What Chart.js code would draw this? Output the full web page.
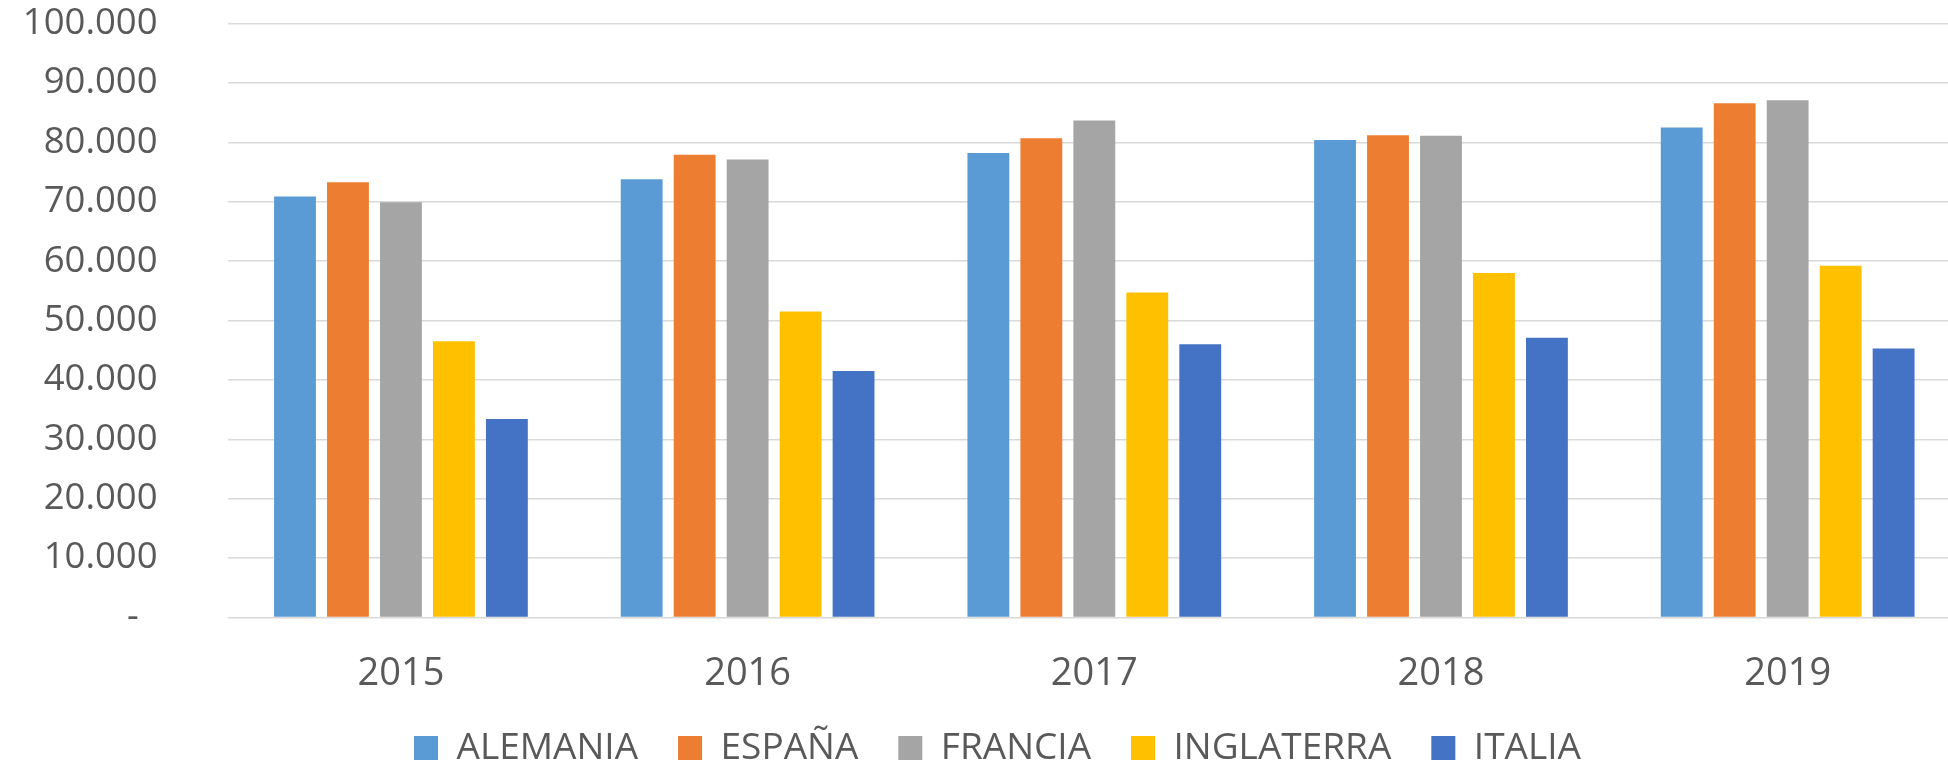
<!DOCTYPE html>
<html>
<head>
<meta charset="utf-8">
<script src="https://cdn.jsdelivr.net/npm/chart.js@4.4.0/dist/chart.umd.min.js"></script>
<style>
  html, body { margin: 0; padding: 0; overflow: hidden; background: #fff; }
  #wrap { width: 1961px; height: 764px; }
</style>
</head>
<body>
<div id="wrap"><canvas id="chart" width="1961" height="764"></canvas></div>
<script>
// ===== Data =====
const years = ['2015', '2016', '2017', '2018', '2019'];
const countries = ['ALEMANIA', 'ESPAÑA', 'FRANCIA', 'INGLATERRA', 'ITALIA'];
const alemania   = [70900, 73800, 78200, 80400, 82500];
const espana     = [73300, 77900, 80700, 81200, 86600];
const francia    = [69900, 77100, 83700, 81100, 87100];
const inglaterra = [46500, 51500, 54700, 58000, 59200];
const italia     = [33400, 41500, 46000, 47100, 45300];
const yMin = 0, yMax = 100000, yStep = 10000;

const colors = ['#5B9BD5', '#ED7D31', '#A5A5A5', '#FFC000', '#4472C4'];
const series = [alemania, espana, francia, inglaterra, italia];
const textColor = '#595959';

// Excel style number: 100.000, zero shown as "-"
function fmt(v) {
  if (v === 0) return '-  ';
  return String(v).replace(/\B(?=(\d{3})+(?!\d))/g, '.');
}

// ===== Legend tweaks: lower box height, shift to the right =====
const LEGEND_H = 74.5;
const LEGEND_SHIFT = 17;
const legendFix = {
  id: 'legendFix',
  beforeLayout(chart) {
    const lg = chart.legend;
    if (lg && !lg._fixed) {
      const fit = lg.fit;
      lg.fit = function () { fit.call(this); this.height = LEGEND_H; };
      lg._fixed = true;
    }
  },
  afterLayout(chart) {
    const lg = chart.legend;
    if (lg) { lg.left += LEGEND_SHIFT; lg.right += LEGEND_SHIFT; }
  }
};

const ctx = document.getElementById('chart').getContext('2d');
new Chart(ctx, {
  type: 'bar',
  data: {
    labels: years,
    datasets: countries.map((name, i) => ({
      label: name,
      data: series[i],
      backgroundColor: colors[i],
      borderWidth: 0,
      categoryPercentage: 0.764,
      barPercentage: 0.79
    }))
  },
  options: {
    responsive: false,
    animation: false,
    layout: { padding: { top: 23.6, left: 0, right: 0, bottom: 0 } },
    scales: {
      x: {
        grid: { display: false, drawTicks: false },
        border: { display: false },
        afterFit(scale) { scale.height = 72.1; },
        ticks: {
          color: textColor,
          padding: 38,
          font: { family: 'Open Sans', size: 38, lineHeight: 1 }
        }
      },
      y: {
        min: yMin,
        max: yMax,
        afterFit(scale) {
          scale.width = 227.6;
          scale.paddingTop = 0;
          scale.paddingBottom = 0;
        },
        grid: { color: '#D9D9D9', lineWidth: 1.5, drawTicks: false },
        border: { display: false },
        ticks: {
          stepSize: yStep,
          color: textColor,
          padding: 70,
          font: { family: 'Open Sans', size: 36.5 },
          callback: v => fmt(v)
        }
      }
    },
    plugins: {
      legend: {
        position: 'bottom',
        labels: {
          color: textColor,
          boxWidth: 24,
          boxHeight: 24,
          padding: 40,
          font: { family: 'Open Sans', size: 37 }
        }
      },
      tooltip: { enabled: false }
    }
  },
  plugins: [legendFix]
});
</script>
</body>
</html>
